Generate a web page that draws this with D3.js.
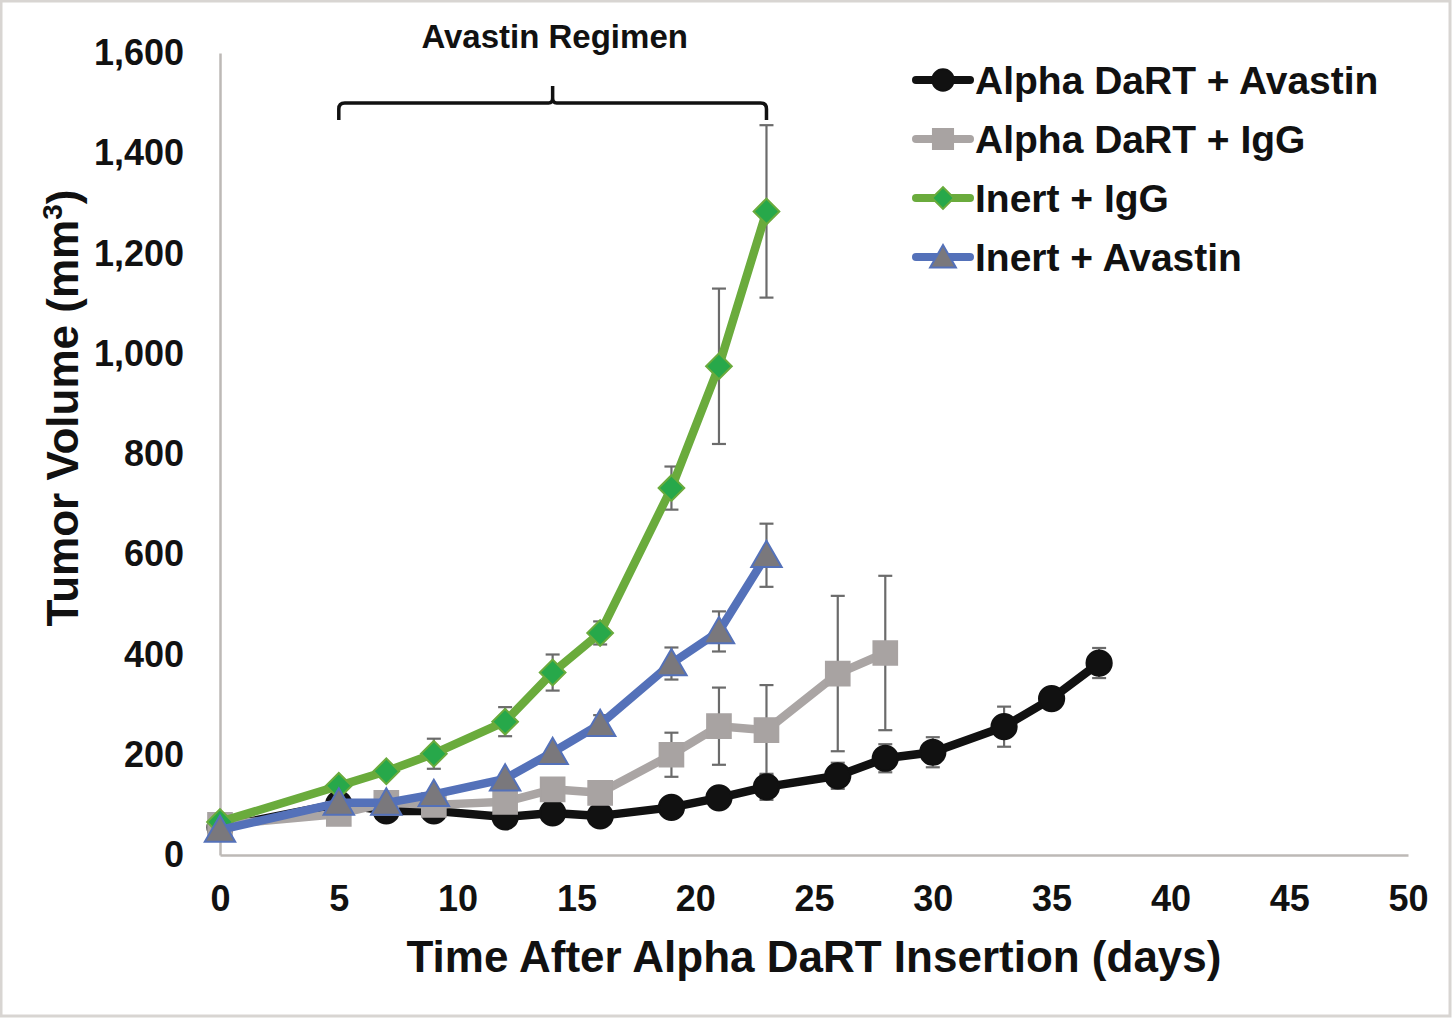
<!DOCTYPE html>
<html>
<head>
<meta charset="utf-8">
<script src="https://cdn.jsdelivr.net/npm/d3@7"></script>
<style>
  body { margin: 0; background: #fff; }
  text { font-family: "Liberation Sans", Arial, sans-serif; font-weight: bold; fill: #111; }
</style>
</head>
<body>
<div class="canvas"></div>
<script>
// ---- data ----
const seriesNames = ['Alpha DaRT + Avastin', 'Alpha DaRT + IgG', 'Inert + IgG', 'Inert + Avastin'];

const daysDartAvastin = [0, 5, 7, 9, 12, 14, 16, 19, 21, 23, 26, 28, 30, 33, 35, 37];
const volDartAvastin  = [55, 102, 88, 88, 76, 84, 78, 95, 114, 136, 158, 193, 205, 256, 312, 383];
const errDartAvastin  = [0, 0, 0, 0, 0, 0, 8, 10, 12, 26, 26, 28, 30, 40, 0, 30];

const daysDartIgG = [0, 5, 7, 9, 12, 14, 16, 19, 21, 23, 26, 28];
const volDartIgG  = [60, 82, 104, 100, 106, 131, 124, 200, 257, 249, 362, 403];
const errDartIgG  = [0, 0, 0, 0, 0, 0, 0, 44, 77, 90, 155, 154];

const daysInertIgG = [0, 5, 7, 9, 12, 14, 16, 19, 21, 23];
const volInertIgG  = [66, 138, 167, 202, 266, 364, 443, 732, 975, 1284];
const errInertIgG  = [0, 0, 0, 30, 29, 36, 23, 43, 155, 172];

const daysInertAvastin = [0, 5, 7, 9, 12, 14, 16, 19, 21, 23];
const volInertAvastin  = [50, 104, 104, 121, 152, 205, 261, 382, 446, 598];
const errInertAvastin  = [0, 0, 0, 0, 0, 0, 18, 32, 40, 63];

const xTicks = [0, 5, 10, 15, 20, 25, 30, 35, 40, 45, 50];
const yTicks = [0, 200, 400, 600, 800, 1000, 1200, 1400, 1600];
const regimen = [5, 23];   // Avastin treatment window (days)

// ---- layout ----
const width = 1452, height = 1018;
const margin = { top: 53, right: 44, bottom: 163, left: 220 };

const svg = d3.select('.canvas').append('svg')
  .attr('width', width)
  .attr('height', height);

svg.append('rect')
  .attr('x', 1).attr('y', 1)
  .attr('width', width - 3).attr('height', height - 3)
  .attr('fill', '#fff')
  .attr('stroke', '#d8d5d2')
  .attr('stroke-width', 3);

const x = d3.scaleLinear().domain([0, 50]).range([margin.left, width - margin.right]);
const y = d3.scaleLinear().domain([0, 1600]).range([height - margin.bottom, margin.top]);

// diamond = square turned 45 degrees (Excel style, not d3's tall diamond)
const series = [
  { name: seriesNames[0], days: daysDartAvastin, vals: volDartAvastin, errs: errDartAvastin,
    line: '#111111', fill: '#111111', stroke: '#111111', shape: d3.symbolCircle, size: 500, rot: 0, dy: 0 },
  { name: seriesNames[1], days: daysDartIgG, vals: volDartIgG, errs: errDartIgG,
    line: '#aaa5a4', fill: '#a8a3a2', stroke: '#a8a3a2', shape: d3.symbolSquare, size: 560, rot: 0, dy: 0 },
  { name: seriesNames[2], days: daysInertIgG, vals: volInertIgG, errs: errInertIgG,
    line: '#6aab3c', fill: '#27a84a', stroke: '#6aab3c', shape: d3.symbolSquare, size: 330, rot: 45, dy: 0 },
  { name: seriesNames[3], days: daysInertAvastin, vals: volInertAvastin, errs: errInertAvastin,
    line: '#5471b9', fill: '#7a787c', stroke: '#5471b9', shape: d3.symbolTriangle, size: 400, rot: 0, dy: 3 }
];
series.forEach(s => { s.points = s.days.map((d, i) => ({ day: d, v: s.vals[i], e: s.errs[i] })); });

// axes
const xAxis = d3.axisBottom(x).tickValues(xTicks).tickSize(0).tickPadding(30);
const yAxis = d3.axisLeft(y).tickValues(yTicks).tickSize(0).tickPadding(36).tickFormat(d3.format(','));

const xAxisGroup = svg.append('g').attr('transform', `translate(0, ${y(0)})`).call(xAxis);
const yAxisGroup = svg.append('g').attr('transform', `translate(${x(0)}, 0)`).call(yAxis);

[xAxisGroup, yAxisGroup].forEach(g => {
  g.select('.domain').attr('stroke', '#bdb9b6').attr('stroke-width', 2.5);
  g.selectAll('text').attr('font-size', 36).attr('font-family', '"Liberation Sans", Arial, sans-serif')
    .attr('font-weight', 'bold').attr('fill', '#111');
});
xAxisGroup.selectAll('text').attr('dy', '0.71em');

// axis titles
svg.append('text')
  .attr('x', 814).attr('y', 972)
  .attr('text-anchor', 'middle')
  .attr('font-size', 44)
  .text('Time After Alpha DaRT Insertion (days)');

const yTitle = svg.append('text')
  .attr('transform', 'translate(78, 408) rotate(-90)')
  .attr('text-anchor', 'middle')
  .attr('font-size', 44);
yTitle.append('tspan').text('Tumor Volume (mm');
yTitle.append('tspan').attr('font-size', 28).attr('dy', -16).text('3');
yTitle.append('tspan').attr('dy', 16).text(')');

// error bars
const errG = svg.append('g');
series.forEach(s => {
  const pts = s.points.filter(p => p.e > 0);
  const g = errG.append('g').attr('stroke', '#6b6b6b').attr('stroke-width', 2.2);
  g.selectAll('line.v').data(pts).enter().append('line')
    .attr('x1', p => x(p.day)).attr('x2', p => x(p.day))
    .attr('y1', p => y(p.v + p.e)).attr('y2', p => y(p.v - p.e));
  g.selectAll('line.t').data(pts).enter().append('line')
    .attr('x1', p => x(p.day) - 7).attr('x2', p => x(p.day) + 7)
    .attr('y1', p => y(p.v + p.e)).attr('y2', p => y(p.v + p.e));
  g.selectAll('line.b').data(pts).enter().append('line')
    .attr('x1', p => x(p.day) - 7).attr('x2', p => x(p.day) + 7)
    .attr('y1', p => y(p.v - p.e)).attr('y2', p => y(p.v - p.e));
});

// lines and markers
const line = d3.line().x(p => x(p.day)).y(p => y(p.v));
series.forEach(s => {
  svg.append('path')
    .datum(s.points)
    .attr('d', line)
    .attr('fill', 'none')
    .attr('stroke', s.line)
    .attr('stroke-width', 8.5)
    .attr('stroke-linejoin', 'round')
    .attr('stroke-linecap', 'round');
  svg.append('g').selectAll('path').data(s.points).enter().append('path')
    .attr('d', d3.symbol().type(s.shape).size(s.size))
    .attr('transform', p => `translate(${x(p.day)}, ${y(p.v) + s.dy}) rotate(${s.rot})`)
    .attr('fill', s.fill)
    .attr('stroke', s.stroke)
    .attr('stroke-width', 2);
});

// Avastin regimen bracket
const bx0 = x(regimen[0]), bx1 = x(regimen[1]), bxm = x((regimen[0] + regimen[1]) / 2);
const by = 103;
svg.append('path')
  .attr('d', `M${bx0},120 L${bx0},${by + 6} Q${bx0},${by} ${bx0 + 6},${by} L${bxm - 4},${by} Q${bxm},${by} ${bxm},${by - 5} L${bxm},86 ` +
             `M${bxm},${by - 5} Q${bxm},${by} ${bxm + 4},${by} L${bx1 - 6},${by} Q${bx1},${by} ${bx1},${by + 6} L${bx1},120`)
  .attr('fill', 'none')
  .attr('stroke', '#111')
  .attr('stroke-width', 3.5);

svg.append('text')
  .attr('x', bxm + 2).attr('y', 48)
  .attr('text-anchor', 'middle')
  .attr('font-size', 33)
  .text('Avastin Regimen');

// legend
const legend = svg.append('g').attr('transform', 'translate(912, 80)');
series.forEach((s, i) => {
  const row = legend.append('g').attr('transform', `translate(0, ${i * 59})`);
  row.append('line')
    .attr('x1', 4).attr('x2', 58).attr('y1', 0).attr('y2', 0)
    .attr('stroke', s.line).attr('stroke-width', 8).attr('stroke-linecap', 'round');
  row.append('path')
    .attr('d', d3.symbol().type(s.shape).size(s.size * 0.72))
    .attr('transform', `translate(31, ${s.dy}) rotate(${s.rot})`)
    .attr('fill', s.fill).attr('stroke', s.stroke).attr('stroke-width', 2);
  row.append('text')
    .attr('x', 63).attr('y', 14)
    .attr('font-size', 39)
    .text(s.name);
});
</script>
</body>
</html>
